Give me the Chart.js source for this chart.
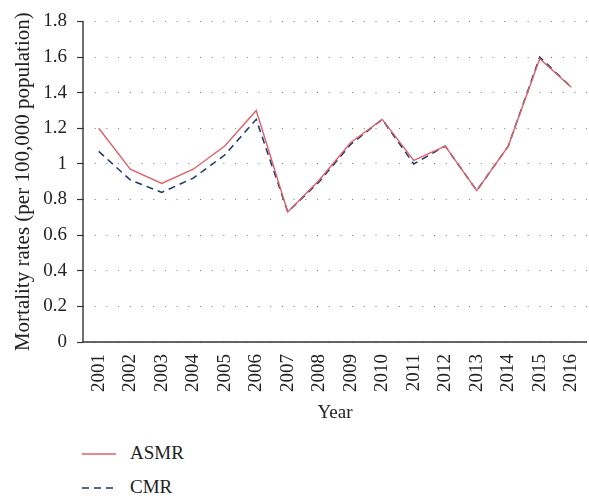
<!DOCTYPE html>
<html>
<head>
<meta charset="utf-8">
<script src="https://cdn.jsdelivr.net/npm/chart.js@4"></script>
<style>
  body { margin: 0; background: #fff; }
  #wrap { position: relative; width: 589px; height: 500px; }
  #chart { position: absolute; left: 0; top: 0; }
  .leg { position: absolute; left: 82px; font-family: "Liberation Serif", serif; font-size: 19px; color: #222; }
  .leg svg { position: absolute; left: 0; top: -2px; }
  .leg span.txt { position: absolute; left: 48px; top: -12px; white-space: nowrap; }
</style>
</head>
<body>
<div id="wrap">
  <canvas id="chart" width="589" height="430"></canvas>
  <div id="legend"></div>
</div>
<script>
// data
const years = ['2001','2002','2003','2004','2005','2006','2007','2008','2009','2010','2011','2012','2013','2014','2015','2016'];
const asmr = [1.20, 0.97, 0.89, 0.97, 1.10, 1.30, 0.73, 0.91, 1.12, 1.25, 1.02, 1.10, 0.85, 1.10, 1.59, 1.43];
const cmr  = [1.07, 0.91, 0.84, 0.92, 1.05, 1.25, 0.73, 0.90, 1.11, 1.25, 1.00, 1.10, 0.85, 1.10, 1.60, 1.43];
const yTicks = [0, 0.2, 0.4, 0.6, 0.8, 1, 1.2, 1.4, 1.6, 1.8];

const asmrColor = '#e0606b';
const cmrColor = '#1d3566';
const axisColor = '#333';
const serif = '"Liberation Serif", "DejaVu Serif", serif';
const textColor = '#222';

// solid axis lines (the border option would pick up the dotted grid dash)
const axisLines = {
  id: 'axisLines',
  afterDraw(chart) {
    const { ctx, chartArea: a } = chart;
    ctx.save();
    ctx.setLineDash([]);
    ctx.strokeStyle = axisColor;
    ctx.lineWidth = 1.4;
    ctx.beginPath();
    ctx.moveTo(a.left, a.top);
    ctx.lineTo(a.left, a.bottom);
    ctx.lineTo(a.right, a.bottom);
    ctx.stroke();
    ctx.restore();
  }
};

const chart = new Chart(document.getElementById('chart'), {
  type: 'line',
  data: {
    labels: years,
    datasets: [
      { label: 'ASMR', data: asmr, borderColor: asmrColor, borderWidth: 1.4, pointRadius: 0, tension: 0, fill: false },
      { label: 'CMR', data: cmr, borderColor: cmrColor, borderWidth: 1.5, borderDash: [7, 5], pointRadius: 0, tension: 0, fill: false }
    ]
  },
  options: {
    responsive: false,
    animation: false,
    layout: { padding: { top: 18, right: 2, left: 0, bottom: 0 } },
    plugins: { legend: { display: false }, tooltip: { enabled: false } },
    scales: {
      x: {
        offset: true,
        grid: { display: false },
        border: { display: false },
        ticks: { color: textColor, font: { family: serif, size: 19 }, minRotation: 90, maxRotation: 90, padding: 4, autoSkip: false },
        title: { display: true, text: 'Year', color: textColor, font: { family: serif, size: 19 }, padding: { top: 2, bottom: 6 } },
        afterFit: (s) => { s.height = 430 - 342; s.paddingRight = 0; s.paddingLeft = 0; }
      },
      y: {
        min: 0, max: 1.8,
        afterBuildTicks: (s) => { s.ticks = yTicks.map(v => ({ value: v })); },
        grid: {
          color: '#777', lineWidth: 1,
          drawTicks: true, tickLength: 6, tickColor: axisColor, tickBorderDash: [], tickWidth: 1.2
        },
        border: { display: false, dash: [1, 10.7] },
        ticks: { color: textColor, font: { family: serif, size: 19 }, padding: 10, callback: (v) => String(+(+v).toFixed(1)) },
        title: { display: true, text: 'Mortality rates (per 100,000 population)', color: textColor, font: { family: serif, size: 21 }, padding: { top: 11, bottom: 0 } },
        afterFit: (s) => { s.width = 83; }
      }
    }
  },
  plugins: [axisLines]
});

// legend stacked at bottom left, built from the datasets
const legend = document.getElementById('legend');
const legendY = [454, 488];
chart.data.datasets.forEach((ds, i) => {
  const item = document.createElement('div');
  item.className = 'leg';
  item.style.top = legendY[i] + 'px';
  const dash = ds.borderDash ? ds.borderDash.join(',') : 'none';
  item.innerHTML = `<svg width="36" height="4"><line x1="0" y1="2" x2="34" y2="2" stroke="${ds.borderColor}" stroke-width="1.5" stroke-dasharray="${dash}"/></svg><span class="txt">${ds.label}</span>`;
  legend.appendChild(item);
});
</script>
</body>
</html>
